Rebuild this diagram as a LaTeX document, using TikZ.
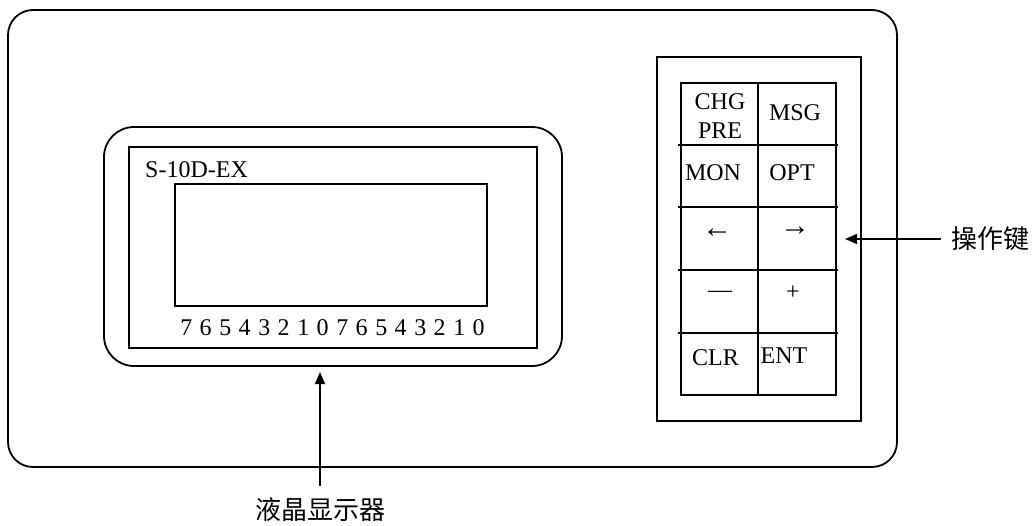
\documentclass[tikz,border=0pt]{standalone}
\usepackage{fontspec}
\setmainfont{Liberation Serif}
\newfontfamily\cjk{Noto Sans CJK SC}
\usetikzlibrary{arrows.meta}
\newcommand\dgap{\hspace{7.5pt}}
\tikzset{
  frame/.style={draw, line width=1.8pt},
  gridline/.style={line width=1.8pt},
  lbl/.style={font=\fontsize{24}{29}\selectfont, inner sep=0pt, align=center},
  arrowlbl/.style={font=\fontsize{30}{30}\selectfont, inner sep=0pt},
  cjklbl/.style={font=\cjk\fontsize{26}{30}\selectfont, inner sep=0pt},
  pointer/.style={line width=1.8pt, -{Triangle[length=12pt,width=10pt]}}
}
\begin{document}
\begin{tikzpicture}[x=1pt,y=-1pt]
\useasboundingbox (0,0) rectangle (1035,525);
% outer housing
\draw[frame, rounded corners=25pt] (8,10) rectangle (897,467);
% display
\draw[frame, rounded corners=30pt] (104,127) rectangle (562,366);
\draw[frame] (129,147) rectangle (537,348);
\draw[frame] (175,184) rectangle (487,306);
\node[lbl, anchor=west] (model) at (145,170) {S-10D-EX};
\node[lbl] (digits) at (332.5,328) {7\dgap 6\dgap 5\dgap 4\dgap 3\dgap 2\dgap 1\dgap 0\dgap 7\dgap 6\dgap 5\dgap 4\dgap 3\dgap 2\dgap 1\dgap 0};
% keypad
\draw[frame] (657,57) rectangle (861,421);
\draw[frame] (681,83) rectangle (836,395);
\draw[gridline] (758,83) -- (758,395);
\foreach \yy in {145,207,270,333} {\draw[gridline] (678,\yy) -- (838,\yy);}
\node[lbl] (kchg) at (720,116.5) {CHG\\PRE};
\node[lbl] (kmsg) at (795,113) {MSG};
\node[lbl] (kmon) at (713,173) {MON};
\node[lbl] (kopt) at (792,173) {OPT};
\node[arrowlbl] (kleft) at (717,233) {←};
\node[arrowlbl] (kright) at (795,231) {→};
\node[lbl] (kminus) at (720,294) {—};
\node[lbl] (kplus) at (793,293) {+};
\node[lbl] (kclr) at (715.5,358) {CLR};
\node[lbl] (kent) at (784,356) {ENT};
% labels and pointers
\node[cjklbl, inner xsep=10pt] (keylbl) at (990,239) {操作键};
\coordinate (keytip) at (845,239);
\draw[pointer] (keylbl.west) -- (keytip);
\node[cjklbl, inner ysep=12pt] (displbl) at (320,510) {液晶显示器};
\coordinate (disptip) at (320,372);
\draw[pointer] (displbl.north) -- (disptip);
\end{tikzpicture}
\end{document}
